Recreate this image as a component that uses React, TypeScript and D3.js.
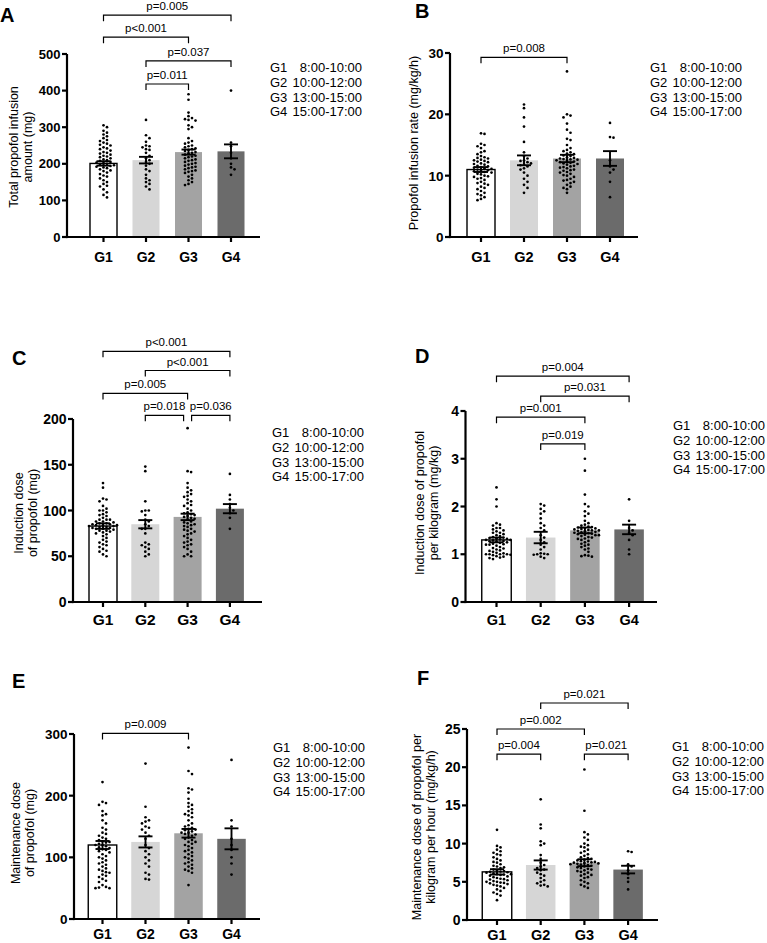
import * as d3 from 'd3';

const GROUPS = ['G1', 'G2', 'G3', 'G4'];
const TIMES = ['8:00-10:00', '10:00-12:00', '13:00-15:00', '15:00-17:00'];
const FILLS = ['#ffffff', '#d6d6d6', '#a3a3a3', '#6b6b6b'];

// A: total propofol infusion amount (mg)
const aDots = [
  [305, 300, 290, 285, 280, 275, 270, 265, 262, 258, 255, 252, 250, 245, 242, 240, 236, 232, 230, 228, 225, 222, 220, 218, 215, 212, 210, 208, 205, 203, 201, 200, 198, 196, 194, 192, 190, 188, 185, 182, 180, 176, 172, 168, 165, 160, 155, 150, 145, 140, 138, 130, 122, 115, 108],
  [320, 278, 270, 260, 250, 248, 245, 240, 238, 230, 222, 215, 210, 205, 200, 195, 185, 180, 170, 160, 155, 150, 145, 138, 130],
  [390, 375, 340, 330, 325, 322, 320, 318, 305, 300, 295, 270, 262, 258, 255, 250, 248, 245, 242, 240, 238, 235, 232, 230, 228, 225, 222, 220, 218, 215, 212, 210, 208, 205, 202, 200, 198, 195, 192, 190, 188, 185, 182, 180, 178, 175, 170, 165, 160, 155, 150, 145, 142],
  [400, 258, 248, 230, 215, 200, 190, 185, 170],
];
const aMeans = [201, 210, 232, 234];
const aSems = [6, 9, 7, 19];
const aBrackets = [
  { a: 0, b: 3, y: 606, p: 'p=0.005' },
  { a: 0, b: 2, y: 546, p: 'p<0.001' },
  { a: 1, b: 3, y: 481, p: 'p=0.037' },
  { a: 1, b: 2, y: 418, p: 'p=0.011' },
];

// B: propofol infusion rate (mg/kg/h)
const bDots = [
  [16.9, 16.8, 15.2, 15.0, 14.8, 14.5, 14.0, 13.5, 13.2, 13.0, 12.8, 12.6, 12.4, 12.2, 12.0, 11.8, 11.6, 11.5, 11.3, 11.2, 11.0, 10.8, 10.6, 10.5, 10.3, 10.2, 10.0, 9.8, 9.6, 9.5, 9.3, 9.0, 8.8, 8.5, 8.2, 8.0, 7.8, 7.5, 7.2, 7.0, 6.8, 6.5, 6.2, 6.0, 12.5, 11.9, 11.4, 10.9, 12.3, 13.8, 9.9, 10.7, 11.1, 12.9, 8.7],
  [21.6, 21.0, 19.5, 18.0, 15.5, 13.8, 13.2, 12.8, 12.5, 12.2, 12.0, 11.8, 11.5, 11.2, 11.0, 10.5, 10.0, 9.5, 9.0, 8.5, 8.0, 7.2, 12.4, 11.7],
  [27.0, 20.0, 19.8, 19.5, 18.5, 17.5, 17.0, 16.0, 15.8, 15.0, 14.5, 14.0, 13.8, 13.5, 13.3, 13.2, 13.0, 12.9, 12.8, 12.7, 12.6, 12.5, 12.4, 12.3, 12.2, 12.0, 11.8, 11.6, 11.5, 11.3, 11.2, 11.0, 10.8, 10.6, 10.5, 10.3, 10.0, 9.8, 9.5, 9.2, 9.0, 8.8, 8.5, 8.2, 8.0, 7.8, 7.2, 12.1, 11.9, 11.4, 10.9, 13.6, 14.2, 12.65, 10.1, 9.3],
  [18.6, 16.3, 16.2, 12.5, 11.5, 11.0, 10.5, 9.0, 6.5],
];
const bMeans = [11.0, 12.5, 12.8, 12.8];
const bSems = [0.4, 0.8, 0.6, 1.2];
const bBrackets = [{ a: 0, b: 2, y: 29.3, p: 'p=0.008' }];

// C: induction dose of propofol (mg)
const cDots = [
  [130, 125, 113, 112, 110, 105, 102, 100, 100, 98, 96, 95, 94, 92, 90, 90, 88, 87, 86, 85, 85, 84, 84, 83, 83, 82, 82, 81, 80, 80, 79, 78, 77, 76, 75, 74, 72, 70, 68, 66, 65, 63, 62, 60, 58, 56, 55, 52, 50, 90, 88, 86, 84, 81, 78],
  [148, 143, 110, 100, 100, 99, 95, 90, 88, 85, 83, 80, 80, 75, 65, 63, 62, 60, 58, 55, 52, 50],
  [190, 143, 142, 130, 125, 122, 120, 118, 116, 115, 112, 110, 108, 106, 105, 102, 100, 98, 97, 96, 95, 94, 93, 92, 91, 90, 88, 87, 86, 85, 84, 83, 82, 80, 79, 78, 77, 75, 74, 72, 70, 68, 66, 65, 63, 62, 60, 58, 55, 52, 50, 50],
  [140, 117, 112, 107, 103, 100, 97, 92, 80],
];
const cMeans = [83, 85, 93, 102];
const cSems = [3, 4.5, 3.5, 5];
const cBrackets = [
  { a: 0, b: 3, y: 274, p: 'p<0.001' },
  { a: 1, b: 3, y: 253, p: 'p<0.001' },
  { a: 0, b: 2, y: 228, p: 'p=0.005' },
  { a: 1, b: 2, y: 204, p: 'p=0.018' },
  { a: 2, b: 3, y: 204, p: 'p=0.036' },
];

// D: induction dose per kilogram (mg/kg)
const dDots = [
  [2.4, 2.15, 2.0, 1.65, 1.62, 1.6, 1.55, 1.52, 1.5, 1.48, 1.45, 1.42, 1.4, 1.38, 1.36, 1.35, 1.33, 1.32, 1.3, 1.3, 1.28, 1.27, 1.25, 1.24, 1.22, 1.2, 1.2, 1.18, 1.15, 1.12, 1.1, 1.08, 1.05, 1.03, 1.0, 1.0, 1.0, 1.0, 0.98, 0.96, 0.95, 0.93, 0.92, 0.9, 1.31, 1.29, 1.34, 1.26, 1.21, 1.02, 0.99, 1.45, 1.55, 1.13, 1.07],
  [2.05, 2.02, 1.95, 1.9, 1.85, 1.75, 1.65, 1.6, 1.55, 1.5, 1.4, 1.35, 1.3, 1.25, 1.2, 1.15, 1.1, 1.02, 1.01, 1.0, 1.0, 0.99, 0.95, 0.92],
  [3.0, 2.75, 2.25, 2.05, 2.0, 1.9, 1.85, 1.8, 1.7, 1.65, 1.62, 1.6, 1.58, 1.56, 1.55, 1.54, 1.52, 1.5, 1.5, 1.49, 1.48, 1.47, 1.46, 1.45, 1.44, 1.42, 1.4, 1.4, 1.38, 1.36, 1.35, 1.33, 1.3, 1.28, 1.25, 1.22, 1.2, 1.18, 1.15, 1.12, 1.1, 1.05, 0.98, 0.97, 0.96, 0.95, 1.51, 1.53, 1.57, 1.43, 1.41, 1.32],
  [2.15, 1.7, 1.55, 1.5, 1.45, 1.4, 1.3, 1.1, 1.0],
];
const dMeans = [1.3, 1.35, 1.5, 1.52];
const dSems = [0.05, 0.12, 0.06, 0.1];
const dBrackets = [
  { a: 0, b: 3, y: 4.73, p: 'p=0.004' },
  { a: 1, b: 3, y: 4.31, p: 'p=0.031' },
  { a: 0, b: 2, y: 3.87, p: 'p=0.001' },
  { a: 1, b: 2, y: 3.31, p: 'p=0.019' },
];

// E: maintenance dose (mg)
const eDots = [
  [222, 190, 188, 185, 175, 170, 168, 160, 155, 148, 145, 140, 138, 135, 132, 130, 128, 126, 124, 122, 120, 120, 118, 116, 115, 113, 112, 110, 108, 105, 102, 100, 98, 95, 92, 90, 88, 85, 82, 80, 78, 76, 75, 72, 70, 68, 65, 62, 60, 55, 52, 51, 50, 50, 125],
  [252, 182, 165, 160, 158, 155, 150, 148, 145, 140, 135, 130, 120, 115, 110, 105, 100, 95, 90, 85, 75, 72, 65, 64],
  [278, 240, 235, 212, 210, 205, 195, 185, 182, 175, 172, 168, 165, 160, 155, 152, 150, 148, 146, 145, 144, 142, 140, 138, 135, 132, 130, 128, 125, 122, 120, 118, 115, 112, 110, 108, 105, 102, 100, 98, 95, 92, 90, 88, 85, 82, 80, 78, 75, 55, 170, 178, 188, 140, 137, 125],
  [258, 160, 150, 130, 120, 112, 100, 90, 72],
];
const eMeans = [120, 125, 139, 130];
const eSems = [6.5, 9, 7, 17];
const eBrackets = [{ a: 0, b: 2, y: 301, p: 'p=0.009' }];

// F: maintenance dose per kilogram per hour (mg/kg/h)
const fDots = [
  [11.8, 9.7, 9.5, 9.2, 9.0, 8.8, 8.5, 8.2, 8.0, 7.8, 7.5, 7.3, 7.0, 6.8, 6.6, 6.5, 6.4, 6.3, 6.2, 6.1, 6.0, 6.0, 5.9, 5.8, 5.7, 5.6, 5.5, 5.4, 5.3, 5.2, 5.1, 5.0, 5.0, 4.9, 4.8, 4.7, 4.6, 4.5, 4.4, 4.2, 4.0, 3.8, 3.6, 3.4, 3.2, 2.6, 6.35, 6.25, 5.95, 7.1, 6.9, 5.35, 4.85, 7.6, 8.6],
  [15.8, 12.5, 12.0, 10.3, 10.0, 9.8, 8.5, 8.0, 7.5, 7.2, 7.0, 6.8, 6.5, 6.2, 6.0, 5.8, 5.5, 5.2, 5.0, 4.8, 4.6, 4.5, 4.4, 6.6],
  [19.7, 14.3, 11.5, 11.2, 10.8, 10.5, 10.0, 9.8, 9.5, 9.2, 9.0, 8.8, 8.6, 8.4, 8.2, 8.0, 7.9, 7.8, 7.7, 7.6, 7.5, 7.4, 7.3, 7.2, 7.1, 7.0, 6.9, 6.8, 6.7, 6.6, 6.5, 6.4, 6.2, 6.0, 5.8, 5.6, 5.5, 5.2, 5.0, 4.8, 4.6, 4.4, 4.2, 7.45, 7.55, 7.35, 8.1, 6.3, 5.9, 9.6, 7.65, 7.25],
  [9.0, 8.9, 7.3, 7.0, 6.5, 6.0, 5.5, 5.0, 4.0],
];
const fMeans = [6.3, 7.2, 7.5, 6.6];
const fSems = [0.35, 0.6, 0.45, 0.5];
const fBrackets = [
  { a: 1, b: 3, y: 28.4, p: 'p=0.021' },
  { a: 0, b: 2, y: 25, p: 'p=0.002' },
  { a: 0, b: 1, y: 21.7, p: 'p=0.004' },
  { a: 2, b: 3, y: 21.7, p: 'p=0.021' },
];

const FONT = "'Liberation Sans', Arial, Helvetica, sans-serif";

interface Bracket { a: number; b: number; y: number; p: string }
interface PanelProps {
  letter: string;
  dots: number[][];
  means: number[];
  sems: number[];
  brackets: Bracket[];
  yMax: number;
  yStep: number;
  ylabel: string[];
  layout: {
    axisX: number; yTop: number; y0: number; xEnd: number;
    c1: number; step: number; bw: number;
    letterPos: [number, number]; ylab: [number, number]; legend: [number, number];
    xLabY: number; xLabSize: number; tickSize: number;
  };
}

// simple deterministic beeswarm so dots with similar values spread sideways
function swarm(vals: number[], y: (v: number) => number, cx: number) {
  const pts = vals.map(v => ({ py: y(v), px: cx })).sort((a, b) => a.py - b.py);
  const placed: { px: number; py: number }[] = [];
  const s = 3.5, minD = 3.3;
  for (const p of pts) {
    for (let k = 0; k < 40; k++) {
      const off = k === 0 ? 0 : (k % 2 ? 1 : -1) * Math.ceil(k / 2) * s;
      const ok = placed.every(q => {
        const dx = cx + off - q.px, dy = p.py - q.py;
        return dx * dx + dy * dy >= minD * minD;
      });
      if (ok) { p.px = cx + off; break; }
    }
    placed.push(p);
  }
  return placed;
}

const Panel = ({ letter, dots, means, sems, brackets, yMax, yStep, ylabel, layout: L }: PanelProps) => {
  const y = d3.scaleLinear().domain([0, yMax]).range([L.y0, L.yTop]);
  const x = d3.scaleBand<string>()
    .domain(GROUPS)
    .range([L.c1 - L.step / 2, L.c1 - L.step / 2 + L.step * 4])
    .paddingInner(1 - L.bw / L.step)
    .paddingOuter((1 - L.bw / L.step) / 2);
  const cx = (i: number) => (x(GROUPS[i]) || 0) + x.bandwidth() / 2;
  const ticks = d3.range(0, yMax + yStep / 2, yStep);
  const capW = 7;

  return (
    <g fontFamily={FONT}>
      <text x={L.letterPos[0]} y={L.letterPos[1]} fontSize={20} fontWeight="bold">{letter}</text>

      <text transform={`translate(${L.ylab[0]},${L.ylab[1]}) rotate(-90)`} textAnchor="middle" fontSize={12.5}>
        {ylabel.map((t, i) => (
          <tspan key={i} x={0} y={(i - (ylabel.length - 1) / 2) * 14 + 4.5}>{t}</tspan>
        ))}
      </text>

      {means.map((m, i) => (
        <rect key={i} x={x(GROUPS[i])} y={y(m)} width={x.bandwidth()} height={L.y0 - y(m)}
          fill={FILLS[i]} stroke={i === 0 ? '#000' : 'none'} strokeWidth={1.4} />
      ))}

      {dots.map((vals, i) => swarm(vals, y, cx(i)).map((p, j) => (
        <circle key={`${i}-${j}`} cx={p.px} cy={p.py} r={1.35} fill="#000" />
      )))}

      {means.map((m, i) => {
        const hi = y(m + sems[i]), lo = y(m - sems[i]);
        return (
          <g key={i} stroke="#000" strokeWidth={1.9}>
            <line x1={cx(i)} x2={cx(i)} y1={hi} y2={lo} />
            <line x1={cx(i) - capW} x2={cx(i) + capW} y1={hi} y2={hi} />
            <line x1={cx(i) - capW} x2={cx(i) + capW} y1={lo} y2={lo} />
          </g>
        );
      })}

      {/* axes */}
      <g stroke="#000" strokeWidth={2.2}>
        <line x1={L.axisX} x2={L.axisX} y1={L.y0 + 1.1} y2={L.yTop} />
        <line x1={L.axisX} x2={L.xEnd} y1={L.y0} y2={L.y0} />
        {ticks.map(t => <line key={t} x1={L.axisX - 5} x2={L.axisX} y1={y(t)} y2={y(t)} />)}
        {GROUPS.map((g, i) => <line key={g} x1={cx(i)} x2={cx(i)} y1={L.y0} y2={L.y0 + 5} />)}
      </g>
      {ticks.map(t => (
        <text key={t} x={L.axisX - 6.5} y={y(t) + L.tickSize * 0.36} textAnchor="end" fontSize={L.tickSize} fontWeight="bold">{t}</text>
      ))}
      {GROUPS.map((g, i) => (
        <text key={g} x={cx(i)} y={L.xLabY} textAnchor="middle" fontSize={L.xLabSize} fontWeight="bold">{g}</text>
      ))}

      {brackets.map((b, k) => {
        const by = y(b.y);
        const shared = (g: number) => brackets.some((o, kk) => kk !== k && o.y === b.y && (o.a === g || o.b === g));
        const x1 = cx(b.a) + (shared(b.a) ? 4 : 0);
        const x2 = cx(b.b) - (shared(b.b) ? 4 : 0);
        return (
          <g key={k}>
            <path d={`M${x1},${by + 6}V${by}H${x2}V${by + 6}`} fill="none" stroke="#000" strokeWidth={1.2} />
            <text x={(x1 + x2) / 2} y={by - 5} textAnchor="middle" fontSize={11.5}>{b.p}</text>
          </g>
        );
      })}

      {GROUPS.map((g, i) => (
        <g key={g} fontSize={13}>
          <text x={L.legend[0]} y={L.legend[1] + i * 14.8}>{g}</text>
          <text x={L.legend[0] + 92} y={L.legend[1] + i * 14.8} textAnchor="end">{TIMES[i]}</text>
        </g>
      ))}
    </g>
  );
};

export default function App() {
  return (
    <svg width={767} height={943} style={{ position: 'absolute', left: 0, top: 0, background: '#fff' }}>
      <rect width={767} height={943} fill="#fff" />
      <Panel letter="A" dots={aDots} means={aMeans} sems={aSems} brackets={aBrackets} yMax={500} yStep={100}
        ylabel={['Total propofol infusion', 'amount (mg)']}
        layout={{ axisX: 67, yTop: 54, y0: 237, xEnd: 260, c1: 103.5, step: 42.5, bw: 27, letterPos: [0, 22], ylab: [20, 147], legend: [270, 72], xLabY: 262, xLabSize: 14, tickSize: 13 }} />
      <Panel letter="B" dots={bDots} means={bMeans} sems={bSems} brackets={bBrackets} yMax={30} yStep={10}
        ylabel={['Propofol infusion rate (mg/kg/h)']}
        layout={{ axisX: 450, yTop: 53, y0: 237, xEnd: 638, c1: 481, step: 43, bw: 28, letterPos: [415, 18], ylab: [413, 143], legend: [650, 72], xLabY: 262, xLabSize: 14.5, tickSize: 13.5 }} />
      <Panel letter="C" dots={cDots} means={cMeans} sems={cSems} brackets={cBrackets} yMax={200} yStep={50}
        ylabel={['Induction dose', 'of propofol (mg)']}
        layout={{ axisX: 73, yTop: 419, y0: 602, xEnd: 262, c1: 103, step: 42.3, bw: 28, letterPos: [12, 365], ylab: [25, 513], legend: [272, 437], xLabY: 625, xLabSize: 15.5, tickSize: 14 }} />
      <Panel letter="D" dots={dDots} means={dMeans} sems={dSems} brackets={dBrackets} yMax={4} yStep={1}
        ylabel={['Induction dose of propofol', 'per kilogram (mg/kg)']}
        layout={{ axisX: 465.5, yTop: 411, y0: 602, xEnd: 657, c1: 496.5, step: 44.2, bw: 29.5, letterPos: [415, 363], ylab: [426.5, 503], legend: [673, 430], xLabY: 625, xLabSize: 14.5, tickSize: 14 }} />
      <Panel letter="E" dots={eDots} means={eMeans} sems={eSems} brackets={eBrackets} yMax={300} yStep={100}
        ylabel={['Maintenance dose', 'of propofol (mg)']}
        layout={{ axisX: 74, yTop: 734, y0: 919, xEnd: 260, c1: 102.5, step: 43, bw: 28.5, letterPos: [12, 688], ylab: [22.5, 833], legend: [273, 752], xLabY: 939, xLabSize: 14, tickSize: 13.5 }} />
      <Panel letter="F" dots={fDots} means={fMeans} sems={fSems} brackets={fBrackets} yMax={25} yStep={5}
        ylabel={['Maintenance dose of propofol per', 'kilogram per hour (mg/kg/h)']}
        layout={{ axisX: 467, yTop: 729, y0: 920, xEnd: 658, c1: 497, step: 43.7, bw: 29.5, letterPos: [417, 685], ylab: [423.5, 827], legend: [672, 751], xLabY: 939.5, xLabSize: 14.5, tickSize: 14 }} />
    </svg>
  );
}
